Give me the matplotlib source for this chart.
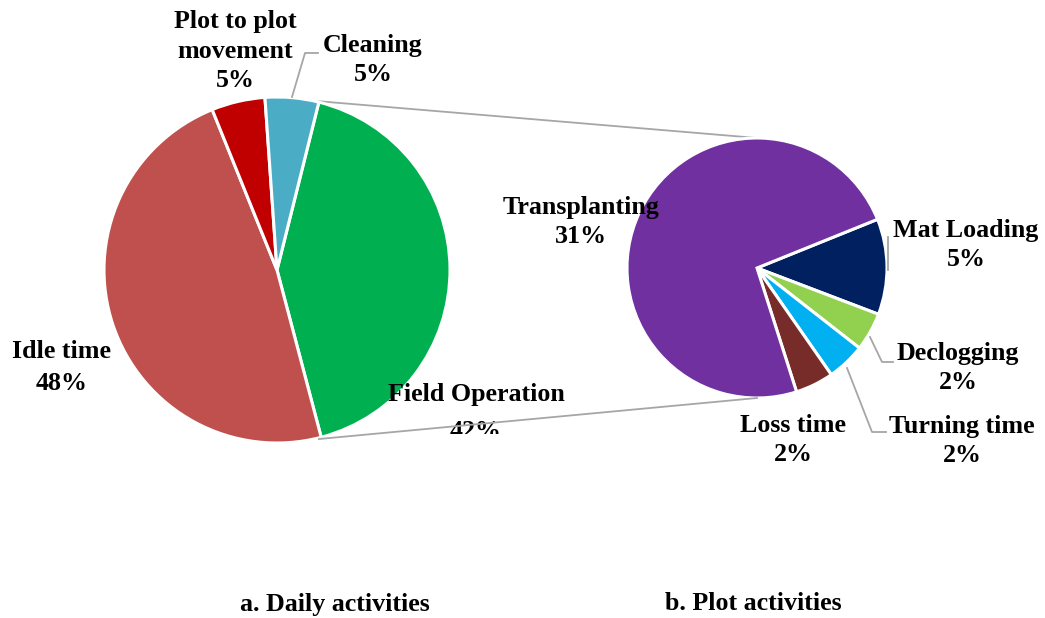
import matplotlib
matplotlib.use("Agg")
import matplotlib.pyplot as plt
from matplotlib.transforms import Bbox, TransformedBbox

# ---- data ----
main_labels = ["Field Operation", "Idle time", "Plot to plot\nmovement", "Cleaning"]
main_values = [42, 48, 5, 5]
main_colors = ["#00B050", "#C0504D", "#C00000", "#4BACC6"]

sub_labels = ["Mat Loading", "Declogging", "Turning time", "Loss time", "Transplanting"]
sub_values = [5, 2, 2, 2, 31]
sub_colors = ["#002060", "#92D050", "#00B0F0", "#772C2A", "#7030A0"]

titles = ["a. Daily activities", "b. Plot activities"]

W, H = 1045, 618
fig = plt.figure(figsize=(W / 100, H / 100), dpi=100)
ax = fig.add_axes([0, 0, 1, 1])

def Y(y):  # convert from top-origin pixel to data y
    return H - y

FONT = dict(family="Liberation Serif", fontweight="bold", fontsize=18.7, color="black")
LS = 1.38
GRAY = "#A6A6A6"
wedgeprops = dict(edgecolor="white", linewidth=2.2)

# connector lines
ax.plot([316, 757], [Y(101), Y(138)], color=GRAY, lw=1.3, zorder=0)
ax.plot([319, 757], [Y(439), Y(398)], color=GRAY, lw=1.3, zorder=4)

ax.pie(main_values, colors=main_colors, startangle=76, counterclock=False,
       center=(277, Y(270)), radius=173, wedgeprops=wedgeprops)
ax.pie(sub_values, colors=sub_colors, startangle=22, counterclock=False,
       center=(757, Y(268)), radius=130, wedgeprops=wedgeprops)

ax.set_xlim(0, W)
ax.set_ylim(0, H)
ax.set_aspect("equal")
ax.axis("off")

def pct(v):
    return f"{v}%"

# main pie labels
ax.text(235, Y(51), f"{main_labels[2]}\n{pct(main_values[2])}", ha="center", va="center",
        linespacing=LS, **FONT)
ax.text(373, Y(60), f"{main_labels[3]}\n{pct(main_values[3])}", ha="center", va="center",
        linespacing=LS, **FONT)
ax.text(62, Y(367), f"{main_labels[1]}\n{pct(main_values[1])}", ha="center", va="center",
        linespacing=1.5, **FONT)
# Field Operation label: the value line is cut off by the plot area in the original
ax.text(476, Y(395), main_labels[0], ha="center", va="center", **FONT)
t = ax.text(476, Y(431), pct(main_values[0]), ha="center", va="center", **FONT)
t.set_clip_box(TransformedBbox(Bbox.from_extents(0, (H - 434) / H, 1, 1), fig.transFigure))
t.set_clip_on(True)

# sub pie labels
ax.text(581, Y(222), f"{sub_labels[4]}\n{pct(sub_values[4])}", ha="center", va="center",
        linespacing=LS, **FONT)
ax.text(966, Y(245), f"{sub_labels[0]}\n{pct(sub_values[0])}", ha="center", va="center",
        linespacing=LS, **FONT)
ax.text(958, Y(368), f"{sub_labels[1]}\n{pct(sub_values[1])}", ha="center", va="center",
        linespacing=LS, **FONT)
ax.text(962, Y(441), f"{sub_labels[2]}\n{pct(sub_values[2])}", ha="center", va="center",
        linespacing=LS, **FONT)
ax.text(793, Y(440), f"{sub_labels[3]}\n{pct(sub_values[3])}", ha="center", va="center",
        linespacing=LS, **FONT)

# leader lines
ax.plot([292, 305, 318], [Y(97), Y(53), Y(53)], color=GRAY, lw=1.3)
ax.plot([888, 888], [Y(270), Y(237)], color=GRAY, lw=1.3)
ax.plot([870, 882, 893], [Y(337), Y(362), Y(362)], color=GRAY, lw=1.3)
ax.plot([847, 872, 886], [Y(368), Y(432), Y(432)], color=GRAY, lw=1.3)

# bottom titles
ax.text(335, Y(604), titles[0], ha="center", va="center", **FONT)
ax.text(753, Y(604), titles[1], ha="center", va="center", **FONT)

fig.savefig("out.png", dpi=100)
